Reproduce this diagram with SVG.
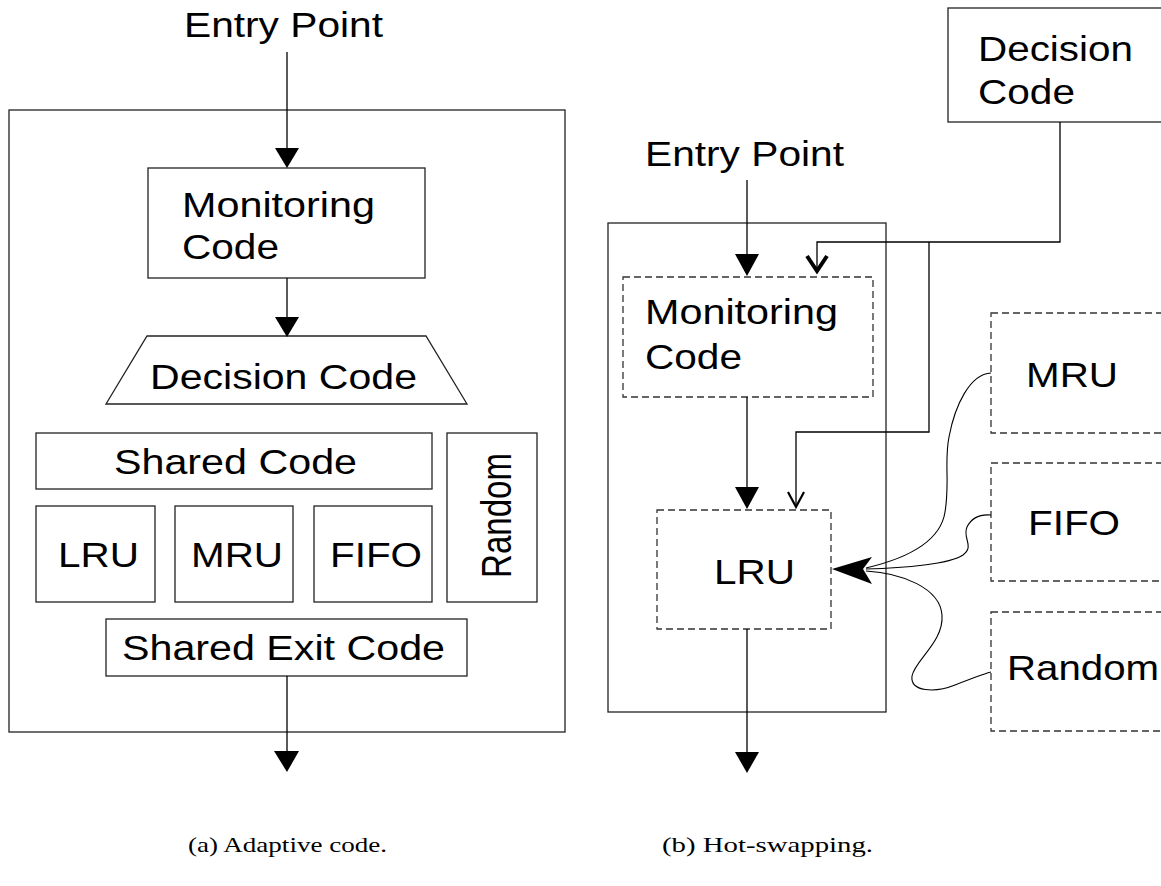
<svg xmlns="http://www.w3.org/2000/svg" width="1161" height="886" viewBox="0 0 1161 886">
<style>
.box{fill:#fff;stroke:#222;stroke-width:1.3}
.dash{fill:#fff;stroke:#333;stroke-width:1.3;stroke-dasharray:7,4}
.ln{fill:none;stroke:#000;stroke-width:1.3}
.cv{fill:none;stroke:#000;stroke-width:1.1}
.hd{fill:#000;stroke:none}
.vh{fill:none;stroke:#000;stroke-linejoin:miter}
.t{font-family:"Liberation Sans",Arial,sans-serif;font-size:35px;fill:#000}
.c{font-family:"Liberation Serif","Times New Roman",serif;font-size:22px;fill:#000}
</style>
<rect width="1161" height="886" fill="#fff"/>

<!-- Left panel -->
<g id="left-container"><rect class="box" x="9" y="110" width="556" height="622"/></g>
<g id="left-entry"><text class="t" x="184" y="37" textLength="199" lengthAdjust="spacingAndGlyphs">Entry Point</text></g>
<g id="left-monitoring"><rect class="box" x="148" y="168" width="277" height="110"/>
<text class="t" x="182" y="217" textLength="193" lengthAdjust="spacingAndGlyphs">Monitoring</text>
<text class="t" x="182" y="259" textLength="97" lengthAdjust="spacingAndGlyphs">Code</text></g>
<g id="left-decision"><polygon class="box" points="147,336 426,336 467,404 106,404"/>
<text class="t" x="150" y="389" textLength="267" lengthAdjust="spacingAndGlyphs">Decision Code</text></g>
<g id="left-shared"><rect class="box" x="36" y="433" width="396" height="56"/>
<text class="t" x="114" y="474" textLength="243" lengthAdjust="spacingAndGlyphs">Shared Code</text></g>
<g id="left-random"><rect class="box" x="447" y="433" width="90" height="169"/>
<text class="t" transform="translate(511,578) scale(1.2,1) rotate(-90)" x="0" y="0" textLength="125" lengthAdjust="spacingAndGlyphs">Random</text></g>
<g id="left-lru"><rect class="box" x="36" y="506" width="119" height="96"/>
<text class="t" x="58" y="567" textLength="81" lengthAdjust="spacingAndGlyphs">LRU</text></g>
<g id="left-mru"><rect class="box" x="175" y="506" width="118" height="96"/>
<text class="t" x="191" y="567" textLength="92" lengthAdjust="spacingAndGlyphs">MRU</text></g>
<g id="left-fifo"><rect class="box" x="314" y="506" width="118" height="96"/>
<text class="t" x="330" y="567" textLength="92" lengthAdjust="spacingAndGlyphs">FIFO</text></g>
<g id="left-exit"><rect class="box" x="106" y="619" width="361" height="57"/>
<text class="t" x="122" y="660" textLength="323" lengthAdjust="spacingAndGlyphs">Shared Exit Code</text></g>

<!-- Right panel -->
<g id="right-container"><rect class="box" x="608" y="223" width="278" height="489"/></g>
<g id="right-entry"><text class="t" x="645" y="166" textLength="199" lengthAdjust="spacingAndGlyphs">Entry Point</text></g>
<g id="right-decision"><rect class="box" x="948" y="8" width="230" height="114"/>
<text class="t" x="978" y="61" textLength="155" lengthAdjust="spacingAndGlyphs">Decision</text>
<text class="t" x="978" y="104" textLength="97" lengthAdjust="spacingAndGlyphs">Code</text></g>
<g id="right-monitoring"><rect class="dash" x="623" y="277" width="250" height="120"/>
<text class="t" x="645" y="324" textLength="193" lengthAdjust="spacingAndGlyphs">Monitoring</text>
<text class="t" x="645" y="369" textLength="97" lengthAdjust="spacingAndGlyphs">Code</text></g>
<g id="right-lru"><rect class="dash" x="657" y="510" width="174" height="119"/>
<text class="t" x="714" y="584" textLength="81" lengthAdjust="spacingAndGlyphs">LRU</text></g>
<g id="right-mru"><rect class="dash" x="991" y="313" width="190" height="120"/>
<text class="t" x="1026" y="387" textLength="92" lengthAdjust="spacingAndGlyphs">MRU</text></g>
<g id="right-fifo"><rect class="dash" x="991" y="463" width="190" height="118"/>
<text class="t" x="1028" y="535" textLength="92" lengthAdjust="spacingAndGlyphs">FIFO</text></g>
<g id="right-random"><rect class="dash" x="991" y="612" width="190" height="119"/>
<text class="t" x="1007" y="680" textLength="152" lengthAdjust="spacingAndGlyphs">Random</text></g>

<!-- Connectors -->
<g id="connectors">
<line class="ln" x1="287" y1="52" x2="287" y2="150"/>
<polygon class="hd" points="275,148 299,148 287,168"/>
<line class="ln" x1="287" y1="278" x2="287" y2="320"/>
<polygon class="hd" points="275,317 299,317 287,337"/>
<line class="ln" x1="287" y1="676" x2="287" y2="753"/>
<polygon class="hd" points="274,751 299,751 287,772"/>

<line class="ln" x1="747" y1="180" x2="747" y2="256"/>
<polygon class="hd" points="735,254 759,254 747,276"/>
<line class="ln" x1="747" y1="397" x2="747" y2="489"/>
<polygon class="hd" points="735,487 759,487 747,509"/>
<line class="ln" x1="747" y1="629" x2="747" y2="754"/>
<polygon class="hd" points="735,752 759,752 747,773"/>

<polyline class="ln" points="1060,122 1060,242 817,242 817,272"/>
<polyline class="vh" stroke-width="4" points="807,256 817,271 827,256"/>
<polyline class="ln" points="929,242 929,432 796,432 796,507"/>
<polyline class="vh" stroke-width="2.2" points="788,492 796,507 804,492"/>

<path class="cv" d="M866,568 C900,560 940,545 945,512 C950,482 944,462 949,437 C955,405 970,374 991,373"/>
<path class="cv" d="M866,569 C905,568 950,564 963,555 C975,546 962,538 967,527 C972,517 980,514 991,515"/>
<path class="cv" d="M866,571 C902,573 940,588 942,615 C944,642 915,660 912,676 C910,692 935,693 955,685 C970,679 980,675 991,672"/>
<polygon class="hd" points="832,569 872,557 863,569 872,584"/>
</g>

<!-- Captions -->
<text class="c" x="188" y="852" textLength="199" lengthAdjust="spacingAndGlyphs">(a) Adaptive code.</text>
<text class="c" x="662" y="852" textLength="211" lengthAdjust="spacingAndGlyphs">(b) Hot-swapping.</text>
</svg>
